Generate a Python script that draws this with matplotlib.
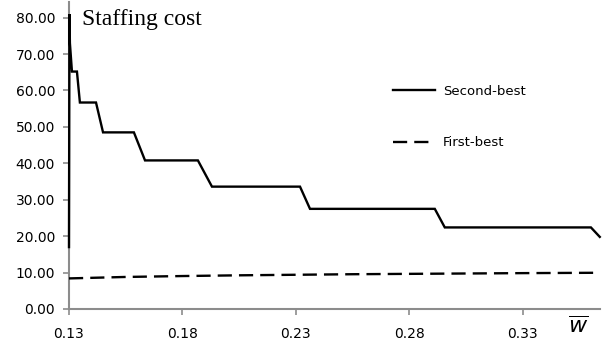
import matplotlib
matplotlib.use("Agg")
import matplotlib.pyplot as plt

# Second-best staffing cost (step-like curve)
sb_x = [0.1300, 0.1302, 0.1304, 0.1313, 0.1335, 0.1348, 0.1419, 0.1450, 0.1586, 0.1635,
        0.1868, 0.1930, 0.2318, 0.2362, 0.2912, 0.2956, 0.3600, 0.3639]
sb_y = [17.0, 81.0, 73.0, 65.2, 65.2, 56.7, 56.7, 48.5, 48.5, 40.8,
        40.8, 33.6, 33.6, 27.5, 27.5, 22.4, 22.4, 19.8]

# First-best staffing cost
fb_x = [0.130, 0.155, 0.180, 0.205, 0.230, 0.255, 0.280, 0.305, 0.330, 0.364]
fb_y = [8.4, 8.8, 9.05, 9.25, 9.4, 9.55, 9.65, 9.75, 9.85, 9.95]

x_ticks = [0.13, 0.18, 0.23, 0.28, 0.33]
y_ticks = [0, 10, 20, 30, 40, 50, 60, 70, 80]

fig = plt.figure(figsize=(6.16, 3.47), dpi=100)
ax = fig.add_axes([69/616, 1-309/347, (600-69)/616, (309-2)/347])

ax.plot(sb_x, sb_y, color="black", lw=1.7, solid_joinstyle="miter", label="Second-best",
        zorder=5, clip_on=False)
ax.plot(fb_x, fb_y, color="black", lw=1.7, dashes=(6, 3), label="First-best",
        zorder=5, clip_on=False)

ax.set_xlim(0.13, 0.364)
ax.set_ylim(0, 84.3)
ax.set_xticks(x_ticks)
ax.set_xticklabels([f"{v:.2f}" for v in x_ticks])
ax.set_yticks(y_ticks)
ax.set_yticklabels([f"{v:.2f}" for v in y_ticks])

for s in ["top", "right"]:
    ax.spines[s].set_visible(False)
for s in ["left", "bottom"]:
    ax.spines[s].set_color("#8c8c8c")
    ax.spines[s].set_linewidth(1.5)
    ax.spines[s].set_zorder(2)
ax.tick_params(axis="both", direction="out", color="#8c8c8c", width=1.2, length=4,
               labelsize=10, labelcolor="black")
ax.tick_params(axis="x", pad=9)
ax.tick_params(axis="y", pad=6)
for lab in ax.get_xticklabels() + ax.get_yticklabels():
    lab.set_fontfamily("DejaVu Sans")

fig.text(82/616, 1-19/347, "Staffing cost", ha="left", va="center",
         fontsize=17, family="Liberation Serif")
fig.text(578/616, 1-326/347, r"$\overline{w}$", ha="center", va="center", fontsize=16)

leg = ax.legend(loc="upper left", bbox_to_anchor=((381-69)/531, 1-71/307), frameon=False,
                handlelength=3.2, labelspacing=2.9, prop={"family": "DejaVu Sans", "size": 9.5},
                handletextpad=0.6)

fig.savefig("out.png", dpi=100)
